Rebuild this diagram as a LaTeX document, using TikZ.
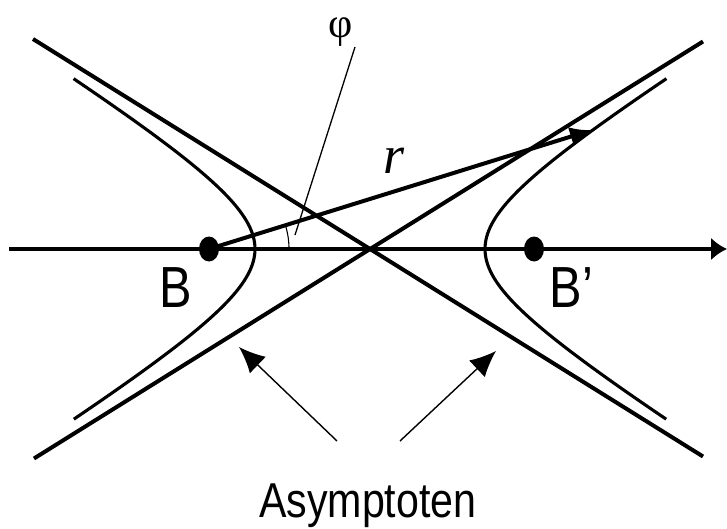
\documentclass[tikz,border=0pt]{standalone}
\usepackage{fontspec}
\usetikzlibrary{arrows.meta}
\newfontfamily\labfont[FakeStretch=0.84]{Liberation Sans}
\newfontfamily\serfont{Liberation Serif}
\begin{document}
\begin{tikzpicture}[x=1pt,y=-1pt,
  thickline/.style={line width=4.0pt},
  hyp/.style={line width=3.1pt},
  thinline/.style={line width=1.4pt},
  lab/.style={inner sep=0pt, anchor=base west, font=\labfont\fontsize{58pt}{60pt}\selectfont}]
\useasboundingbox (0,0) rectangle (727,529);
% asymptotes
\coordinate (O) at (370,249);
\coordinate (TL) at (33,39);
\coordinate (BR) at (703,456.5);
\coordinate (BL) at (34,458.5);
\coordinate (TR) at (703,41.5);
\draw[thickline] (TL) -- (BR);
\draw[thickline] (BL) -- (TR);
% hyperbolas
\draw[hyp] plot[domain=-1.6:1.6, samples=80, smooth, variable=\t] ({370-115*cosh(\t)},{249+71.7*sinh(\t)});
\draw[hyp] plot[domain=-1.6:1.6, samples=80, smooth, variable=\t] ({370+115*cosh(\t)},{249+71.7*sinh(\t)});
% axis
\coordinate (AL) at (9,249);
\coordinate (AR) at (727,249);
\draw[thickline, -{Latex[length=16pt,width=23pt]}] (AL) -- (AR);
% points
\coordinate (B) at (209,249);
\coordinate (Bp) at (534,249);
\fill (B) ellipse [x radius=10pt, y radius=12.5pt];
\fill (Bp) ellipse [x radius=10pt, y radius=12.5pt];
% radius vector
\coordinate (R) at (592,130);
\draw[thickline, -{Latex[length=22pt,width=20pt]}] (B) -- (R);
% angle
\draw[line width=1.1pt] plot[domain=0:17.3, samples=20, variable=\a] ({209+80*cos(\a)},{249-80*sin(\a)});
% labels
\node[inner sep=0pt, anchor=base, font=\serfont\fontsize{42pt}{44pt}\selectfont] (phi) at (341,38) {φ};
\node[inner sep=0pt, anchor=base, font=\serfont\itshape\fontsize{54pt}{56pt}\selectfont] (r) at (394,174) {r};
\coordinate (L1) at (355,47);
\coordinate (L2) at (295,235);
\draw[line width=1.3pt] (L1) -- (L2);
\node[lab] (Blab) at (159.5,307) {B};
\node[lab] (Bplab) at (549.5,307) {B’};
\node[inner sep=0pt, anchor=base west, font=\labfont\fontsize{49pt}{51pt}\selectfont] (asy) at (259,517) {Asymptoten};
% asymptote pointers
\coordinate (a1s) at (337,441);
\coordinate (a1e) at (239,347);
\coordinate (a2s) at (400,441);
\coordinate (a2e) at (496,351);
\draw[thinline, -{Latex[length=26pt,width=23pt]}] (a1s) -- (a1e);
\draw[thinline, -{Latex[length=26pt,width=23pt]}] (a2s) -- (a2e);
\end{tikzpicture}
\end{document}
